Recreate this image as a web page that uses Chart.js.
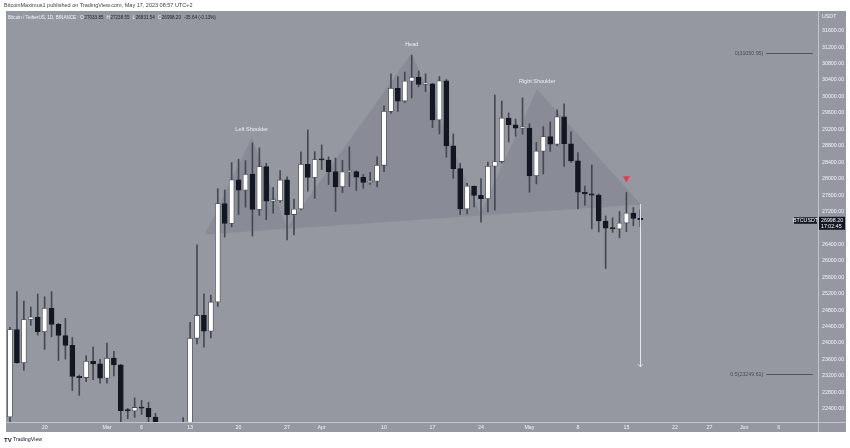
<!DOCTYPE html>
<html><head><meta charset="utf-8">
<script src="https://cdn.jsdelivr.net/npm/chart.js@4.4.0/dist/chart.umd.min.js"></script>
<style>html,body{margin:0;padding:0;background:#fff;}#wrap{width:850px;height:448px;}</style>
</head><body><div id="wrap"><canvas id="c" width="850" height="448"></canvas></div>
<script>
// Daily BTC/USDT candles, Feb 15 (index 0) .. May 17 2023 (index 91)
const dates = ['Feb 15','Feb 16','Feb 17','Feb 18','Feb 19','Feb 20','Feb 21','Feb 22','Feb 23','Feb 24','Feb 25','Feb 26','Feb 27','Feb 28',
 'Mar 1','Mar 2','Mar 3','Mar 4','Mar 5','Mar 6','Mar 7','Mar 8','Mar 9','Mar 10','Mar 11','Mar 12','Mar 13','Mar 14','Mar 15','Mar 16','Mar 17','Mar 18','Mar 19','Mar 20','Mar 21','Mar 22','Mar 23','Mar 24','Mar 25','Mar 26','Mar 27','Mar 28','Mar 29','Mar 30','Mar 31',
 'Apr 1','Apr 2','Apr 3','Apr 4','Apr 5','Apr 6','Apr 7','Apr 8','Apr 9','Apr 10','Apr 11','Apr 12','Apr 13','Apr 14','Apr 15','Apr 16','Apr 17','Apr 18','Apr 19','Apr 20','Apr 21','Apr 22','Apr 23','Apr 24','Apr 25','Apr 26','Apr 27','Apr 28','Apr 29','Apr 30',
 'May 1','May 2','May 3','May 4','May 5','May 6','May 7','May 8','May 9','May 10','May 11','May 12','May 13','May 14','May 15','May 16','May 17'];
const opens = [22199.84,24322.87,23517.72,24569.97,24631.95,24271.76,24842.20,24452.16,24182.21,23940.20,23185.29,23157.07,23554.85,23492.09,
 23141.57,23629.76,23465.32,22354.34,22346.57,22430.24,22409.41,22198.56,21704.37,20362.21,20150.69,20455.73,21998.05,24112.27,24670.41,24285.66,24998.78,27395.13,26907.49,27972.87,27716.34,28107.81,27250.97,28295.42,27454.12,27462.96,27968.05,27124.91,27261.06,28348.60,28028.54,
 28465.36,28452.74,28171.87,27800.00,28165.47,28170.01,28033.83,27906.34,27938.38,28323.76,29637.35,30200.43,29888.07,30373.84,30466.93,30295.10,30304.66,29430.27,30380.01,28797.10,28243.65,27262.84,27816.85,27590.59,27510.93,28300.80,28415.29,29472.77,29311.69,29230.45,
 29233.20,28068.26,28669.86,29026.16,28838.16,29506.63,28848.19,28430.09,27668.79,27628.28,27598.74,26968.61,26795.02,26775.27,26917.62,27162.15,27033.85];
const highs = [24380.00,25250.00,25021.11,24877.00,25192.00,25121.23,25250.00,24476.05,24599.59,24132.35,23219.13,23689.99,23897.99,23600.00,
 24000.00,23796.93,23476.95,22410.00,22662.09,22602.19,22557.91,22287.00,21834.99,20367.78,20686.51,22185.03,24500.00,26386.87,25196.97,25167.40,27756.84,27724.85,28390.10,28472.00,28438.55,28868.05,28750.00,28374.30,27787.33,28194.40,28044.76,27500.00,28650.00,29184.68,28656.69,
 28819.71,28530.00,28499.99,28444.44,28775.00,28190.04,28100.00,28154.99,28530.00,29770.00,30550.00,30486.00,30595.00,31000.00,30619.00,30549.99,30316.06,30485.00,30413.53,29088.30,28374.02,27882.72,27816.85,28000.00,28399.99,30036.00,29890.00,29599.54,29448.88,29969.39,
 29337.34,28879.88,29266.66,29379.83,29677.00,29820.00,29138.29,28631.01,27818.00,28331.42,27630.14,27091.12,27045.99,27200.00,27663.59,27296.89,27238.55];
const lows = [22047.28,23505.25,23339.37,24430.00,24192.57,23840.83,24148.34,23574.69,23608.00,22841.19,22722.00,23059.18,23106.77,23020.97,
 23020.03,23195.90,21971.13,22157.08,22189.22,22258.00,21927.00,21580.00,19969.84,19549.09,19765.03,20448.82,21813.88,23976.42,23896.95,24123.00,24890.00,26578.00,26827.22,27124.47,27303.10,26601.80,27105.00,27000.00,27156.09,27417.76,26508.14,26631.78,27240.10,27696.43,27518.33,
 28220.27,27856.43,27200.24,27662.79,27805.10,27711.00,27766.94,27858.00,27800.00,28170.00,29590.00,29637.40,29854.59,29966.00,30236.65,30120.00,29240.65,29087.04,28520.00,28010.00,27125.00,27140.35,27311.25,26942.82,27192.00,27235.00,28378.86,28891.00,29031.00,29079.59,
 27666.95,27872.00,28113.69,28663.64,28800.00,28300.00,28395.23,27262.00,27353.00,26777.00,26702.05,25811.46,26692.03,26560.00,26711.10,26852.11,26831.54];
const closes = [24324.05,23517.72,24569.97,24631.95,24271.76,24842.20,24452.16,24182.21,23940.20,23185.29,23157.07,23554.85,23492.09,23141.57,
 23628.97,23465.32,22354.34,22346.57,22430.24,22410.00,22197.96,21705.44,20362.22,20150.69,20455.73,21997.11,24113.48,24670.41,24285.66,24998.78,27395.13,26907.49,27972.87,27717.01,28105.47,27250.97,28295.41,27454.11,27462.95,27968.05,27124.91,27261.07,28348.60,28028.53,28465.36,
 28452.73,28171.87,27800.00,28165.47,28170.01,28033.82,27906.33,27938.38,28323.76,29637.34,30200.42,29888.07,30373.84,30466.93,30295.09,30304.65,29430.27,30380.01,28797.10,28243.65,27262.84,27816.85,27590.60,27510.93,28300.79,28415.29,29472.77,29311.70,29230.45,29233.21,
 28068.26,28669.85,29026.16,28838.16,29505.61,28848.20,28430.10,27668.79,27628.27,27598.75,26968.62,26795.01,26775.28,26917.62,27162.14,27033.84,26998.20];

// time axis labels (day index from Feb 15)
const tickDays = [5,14,19,26,33,40,45,54,61,68,75,82,89,96,101,106,111];
const tickLabels = ['20','Mar','6','13','20','27','Apr','10','17','24','May','8','15','22','27','Jun','6'];
// price axis labels
const priceTicks = [22400,22800,23200,23600,24000,24400,24800,25200,25600,26000,26400,26800,27200,27600,28000,28400,28800,29200,29600,30000,30400,30800,31200,31600];

// head & shoulders drawing [day index, price]
const patternPoints = [[28.15,26640],[34.9,29000],[40.0,26810],[58.0,31060],[67.9,27150],[76.1,30180],[91.1,27370]];
const patternLabels = ['Left Shoulder','Head','Right Shoulder'];
const patternLabelIdx = [1,3,5];
// fib levels
const fibLabels = ['0(31050.95)','0.5(23249.61)'];
const fibPrices = [31050.95,23249.61];
const fibRange = [109.2,115.9];
// projection arrow, signal marker
const arrowDay = 91, arrowFrom = 27380, arrowTo = 23420;
const markerDay = 89, markerPrice = 28010;
const lastPrice = 26998.20, lastTime = '17:02:45';
// legend values
const legendTitle = 'Bitcoin / TetherUS, 1D, BINANCE';
const ohlcKeys = ['O','H','L','C'];
const ohlcVals = ['27033.85','27238.55','26831.54','26998.20'];
const changeText = '-35.64 (-0.13%)';

const FONT = "'Liberation Sans', Arial, sans-serif";
const PANEL = '#9598a1';
const LIGHT = '#f2f4f8';

const up = opens.map((o,i)=>closes[i]>=o);

const deco = {
  id:'deco',
  beforeDraw(chart){
    const c = chart.ctx;
    c.save();
    c.fillStyle = '#ffffff'; c.fillRect(0,0,chart.width,chart.height);
    c.fillStyle = PANEL; c.fillRect(6,11,840,421);
    c.restore();
  },
  beforeDatasetsDraw(chart){
    const c = chart.ctx, xs = chart.scales.x, ys = chart.scales.y, a = chart.chartArea;
    c.save();
    c.beginPath(); c.rect(a.left,a.top,a.right-a.left,a.bottom-a.top); c.clip();
    c.beginPath();
    patternPoints.forEach((p,k)=>{
      const X = xs.getPixelForValue(p[0]), Y = ys.getPixelForValue(p[1]);
      if(k===0) c.moveTo(X,Y); else c.lineTo(X,Y);
    });
    c.closePath();
    c.fillStyle = 'rgba(60,63,78,0.13)';
    c.fill();
    c.restore();
  },
  afterDatasetsDraw(chart){
    const c = chart.ctx, xs = chart.scales.x, ys = chart.scales.y, a = chart.chartArea;
    c.save();
    c.font = `5.5px ${FONT}`; c.fillStyle = '#eef0f5'; c.textAlign='center'; c.textBaseline='middle';
    patternLabelIdx.forEach((pi,k)=>{
      const p = patternPoints[pi];
      c.fillText(patternLabels[k], xs.getPixelForValue(p[0]), ys.getPixelForValue(p[1]) - 8);
    });
    const ax = Math.round(xs.getPixelForValue(arrowDay))+0.5;
    const ay1 = ys.getPixelForValue(arrowFrom), ay2 = ys.getPixelForValue(arrowTo);
    c.strokeStyle = '#e4e6ec'; c.lineWidth = 1;
    c.beginPath(); c.moveTo(ax,ay1); c.lineTo(ax,ay2); c.stroke();
    c.beginPath(); c.moveTo(ax-2.5,ay2-2.5); c.lineTo(ax,ay2); c.lineTo(ax+2.5,ay2-2.5); c.stroke();
    c.strokeStyle = '#50535e'; c.fillStyle = '#4a4d57'; c.textAlign='right'; c.font = `5.3px ${FONT}`;
    fibPrices.forEach((p,k)=>{
      const y = Math.round(ys.getPixelForValue(p))+0.5;
      const x1 = xs.getPixelForValue(fibRange[0]), x2 = xs.getPixelForValue(fibRange[1]);
      c.beginPath(); c.moveTo(x1,y); c.lineTo(x2,y); c.stroke();
      c.fillText(fibLabels[k], x1-3, y);
    });
    c.restore();
  },
  afterDraw(chart){
    const c = chart.ctx, ys = chart.scales.y, a = chart.chartArea;
    c.save();
    c.strokeStyle = '#c3c5cc'; c.lineWidth = 1;
    c.beginPath(); c.moveTo(Math.round(a.right)+0.5, 11); c.lineTo(Math.round(a.right)+0.5, 432); c.stroke();
    c.beginPath(); c.moveTo(6, Math.round(a.bottom)+0.5); c.lineTo(846, Math.round(a.bottom)+0.5); c.stroke();
    c.font = `5.3px ${FONT}`; c.fillStyle = LIGHT; c.textAlign='left'; c.textBaseline='middle';
    c.fillText('USDT', a.right+4, 17);
    const ly = ys.getPixelForValue(lastPrice);
    c.fillStyle = '#131722';
    c.fillRect(a.right+1, ly-3, 26, 13);
    c.fillRect(a.right-24, ly-2.5, 23, 6.5);
    c.fillStyle = '#ffffff';
    c.fillText(lastPrice.toFixed(2), a.right+3, ly+0.5);
    c.fillText(lastTime, a.right+3, ly+6.5);
    c.textAlign='center';
    c.fillText('BTCUSDT', a.right-12.5, ly+0.8);
    // legend, laid out sequentially
    c.textAlign='left';
    c.font = `4.6px ${FONT}`;
    let x = 8; const y = 18;
    c.fillStyle = LIGHT; c.fillText(legendTitle, x, y);
    x += c.measureText(legendTitle).width + 4;
    ohlcKeys.forEach((k,i)=>{
      c.fillStyle = LIGHT; c.fillText(k, x, y);
      x += c.measureText(k).width + 0.6;
      c.fillStyle = '#1c1f28'; c.fillText(ohlcVals[i], x, y);
      x += c.measureText(ohlcVals[i]).width + 3;
    });
    c.fillStyle = '#1c1f28'; c.fillText(changeText, x, y);
    c.font = `5.5px ${FONT}`; c.fillStyle = '#3d3d3d';
    c.fillText('BitcoinMaximus1 published on TradingView.com, May 17, 2023 08:57 UTC+2', 4, 5.5);
    c.font = `bold 6px ${FONT}`; c.fillStyle = '#131722';
    c.fillText('TV', 4, 440);
    c.font = `5.3px ${FONT}`;
    c.fillText('TradingView', 13, 440);
    c.restore();
  }
};

new Chart(document.getElementById('c'), {
  type:'bar',
  data:{
    datasets:[
      {type:'scatter', data:[{x:markerDay,y:markerPrice}], pointStyle:'triangle', rotation:180, radius:4, backgroundColor:'#f23645', borderColor:'#f23645', borderWidth:0, order:0},
      {type:'bar', data: opens.map((o,i)=>({x:i,y:[o,closes[i]]})), backgroundColor: up.map(u=>u?'#ffffff':'#131722'), borderColor: up.map(u=>u?'#4c4f5a':'#131722'), borderWidth:0.8, borderSkipped:false, barThickness:5, minBarLength:1.3, grouped:false, order:1},
      {type:'bar', data: lows.map((l,i)=>({x:i,y:[l,highs[i]]})), backgroundColor:'#454852', barThickness:1, grouped:false, order:2}
    ]
  },
  options:{
    responsive:false, animation:false, events:[],
    layout:{padding:{left:7,top:11,right:2,bottom:16}},
    plugins:{legend:{display:false}, tooltip:{enabled:false}},
    scales:{
      x:{type:'linear', min:-0.433, max:116.66, offset:false,
        grid:{display:false, drawTicks:false}, border:{display:false},
        afterBuildTicks(s){ s.ticks = tickDays.map(v=>({value:v})); },
        afterFit(s){ s.height = 10; },
        ticks:{autoSkip:false, maxRotation:0, padding:2, color:LIGHT, font:{family:FONT,size:5.3},
          callback:(v)=>{ const k = tickDays.indexOf(v); return k>=0 ? tickLabels[k] : ''; }}
      },
      y:{type:'linear', position:'right', min:22076, max:32080,
        grid:{display:false, drawTicks:false}, border:{display:false},
        afterBuildTicks(s){ s.ticks = priceTicks.map(v=>({value:v})); },
        afterFit(s){ s.width = 30; },
        ticks:{padding:4, color:LIGHT, font:{family:FONT,size:5.3}, callback:(v)=>Number(v).toFixed(2)}
      }
    }
  },
  plugins:[deco]
});
</script></body></html>
